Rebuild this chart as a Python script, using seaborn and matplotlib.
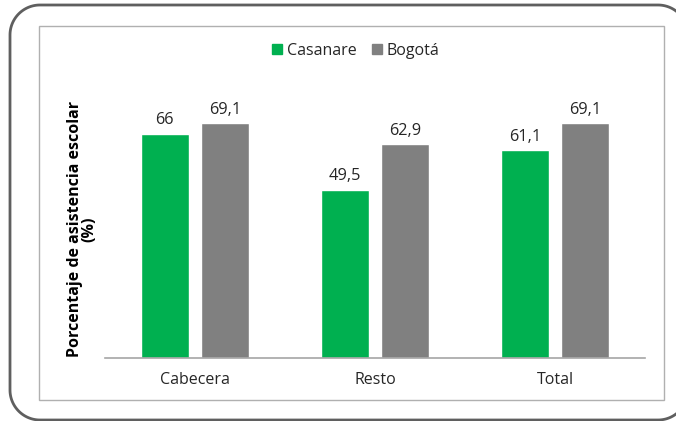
import matplotlib
matplotlib.use("Agg")
import matplotlib.pyplot as plt
from matplotlib.patches import Rectangle
from matplotlib.lines import Line2D
import numpy as np
import seaborn as sns
import pandas as pd

categorias = ["Cabecera", "Resto", "Total"]
casanare = [66.0, 49.5, 61.1]
bogota = [69.1, 62.9, 69.1]
series = ["Casanare", "Bogotá"]
colores = ["#00B050", "#808080"]
etiquetas = {"Casanare": ["66", "49,5", "61,1"], "Bogotá": ["69,1", "62,9", "69,1"]}

df = pd.DataFrame({
    "zona": categorias * 2,
    "valor": casanare + bogota,
    "serie": [series[0]] * 3 + [series[1]] * 3,
})

sns.set_theme(style="white")
plt.rcParams["font.family"] = ["Open Sans", "DejaVu Sans"]

W, H = 676, 421
fig = plt.figure(figsize=(W / 100, H / 100), dpi=100)


def rounded_outline(x0, y0, x1, y1, r, xmax, n=40):
    """Rounded-rectangle polyline (inches), cut where it leaves the figure."""
    pts = []
    corners = [(x1 - r, y1 - r, 0.0), (x0 + r, y1 - r, 90.0),
               (x0 + r, y0 + r, 180.0), (x1 - r, y0 + r, 270.0)]
    for cx, cy, a0 in corners:
        t = np.radians(np.linspace(a0, a0 + 90.0, n))
        pts.append(np.column_stack([cx + r * np.cos(t), cy + r * np.sin(t)]))
    pts = np.vstack(pts)
    pts = pts[pts[:, 0] <= xmax]
    return pts[:, 0], pts[:, 1]


# outer rounded frame; its right side lies past the figure edge
fx, fy = rounded_outline(0.10, 0.01, 6.88, 4.16, 0.3, xmax=W / 100 + 0.01)
fig.add_artist(Line2D(fx, fy, transform=fig.dpi_scale_trans,
                      color="#5f5f5f", linewidth=2.0))
# inner chart-area frame
fig.patches.append(Rectangle((39 / W, (H - 400) / H), 625 / W, 374 / H,
                             transform=fig.transFigure, fill=False,
                             edgecolor="#b0b0b0", linewidth=1.0))

ax = fig.add_axes([105 / W, (H - 358) / H, 540 / W, 272 / H])
sns.barplot(data=df, x="zona", y="valor", hue="serie", order=categorias,
            hue_order=series, palette=colores, width=0.67, gap=0.2,
            saturation=1, ax=ax, legend=False)

ax.set_ylim(0, 80)
ax.set_xlim(-0.5, 2.5)
for c, s in zip(ax.containers, series):
    ax.bar_label(c, labels=etiquetas[s], padding=4, fontsize=11.8, color="#262626")

for side in ["top", "right", "left"]:
    ax.spines[side].set_visible(False)
ax.spines["bottom"].set_color("#a6a6a6")
ax.spines["bottom"].set_linewidth(1.2)
ax.set_yticks([])
ax.set_xlabel("")
ax.set_ylabel("Porcentaje de asistencia escolar\n(%)", fontsize=11.5,
              fontweight="bold", color="black", linespacing=0.85)
ax.yaxis.set_label_coords((97 - 105) / 540, (358 - 229) / 272)
ax.tick_params(axis="x", length=0, pad=10, labelsize=11.5, colors="#262626")

# legend
handles = [Rectangle((0, 0), 1, 1, color=c) for c in colores]
fig.legend(handles, series, loc="center", bbox_to_anchor=(356 / W, 1 - 51 / H),
           ncol=2, frameon=False, fontsize=11.5, handlelength=0.6,
           handleheight=0.6, handletextpad=0.3, columnspacing=1.0,
           labelcolor="#262626")

fig.savefig("out.png", dpi=100, bbox_inches=None)
